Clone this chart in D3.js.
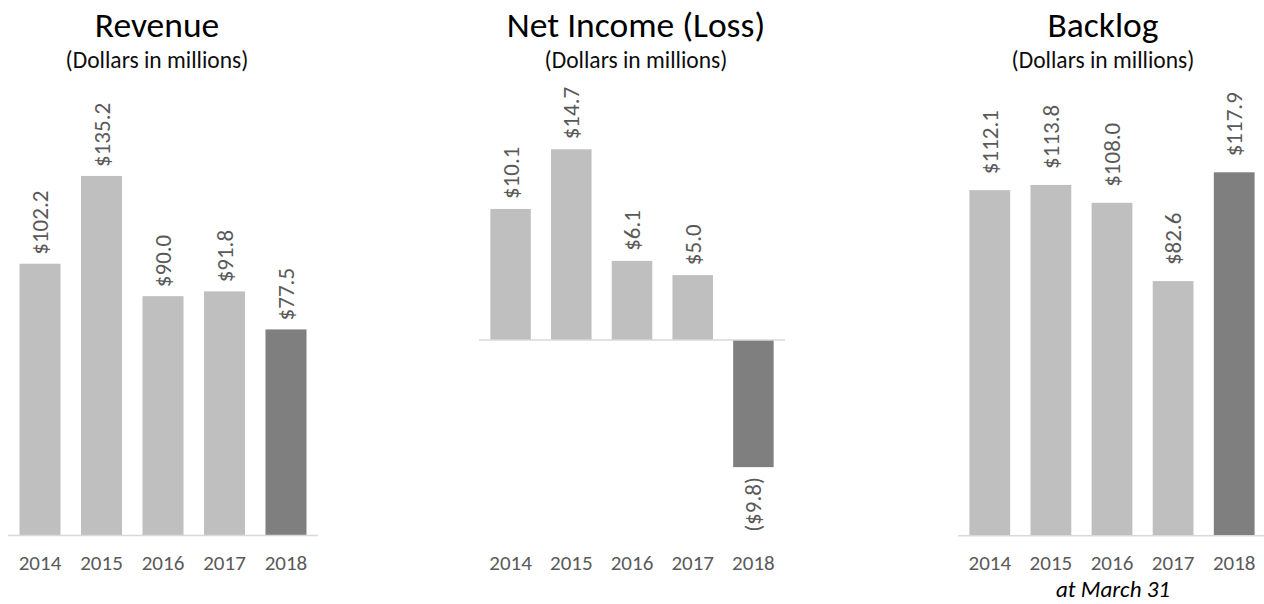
<!DOCTYPE html>
<html>
<head>
<meta charset="utf-8">
<script src="https://d3js.org/d3.v7.min.js" type="text/javascript"></script>
<style>
  body { margin: 0; background: #fff; }
  svg { display: block; font-family: Calibri, Carlito, Lato, sans-serif; }
</style>
</head>
<body>
<div id="chart"></div>
<script>
// data
const years = ["2014", "2015", "2016", "2017", "2018"];
const revenue = [102.2, 135.2, 90.0, 91.8, 77.5];
const netIncome = [10.1, 14.7, 6.1, 5.0, -9.8];
const backlog = [112.1, 113.8, 108.0, 82.6, 117.9];
const highlightYear = "2018";

const panelTitles = ["Revenue", "Net Income (Loss)", "Backlog"];
const panelSubtitles = ["(Dollars in millions)", "(Dollars in millions)", "(Dollars in millions)"];
const footNote = "at March 31";

const width = 1264, height = 604;

// per-panel layout
const panels = [
  { title: panelTitles[0], sub: panelSubtitles[0], values: revenue,
    xRange: [8, 318], domain: [0, 150], yRange: [535.5, 136.6], titleX: 157, gap: 9 },
  { title: panelTitles[1], sub: panelSubtitles[1], values: netIncome,
    xRange: [479, 785], domain: [-15, 15], yRange: [534.6, 145.4], titleX: 636, gap: 10 },
  { title: panelTitles[2], sub: panelSubtitles[2], values: backlog,
    xRange: [958, 1266], domain: [0, 130], yRange: [535.7, 135.0], titleX: 1103, gap: 16 }
];

const fmt = (v) => v < 0 ? "($" + Math.abs(v).toFixed(1) + ")" : "$" + v.toFixed(1);

const svg = d3.select("#chart").append("svg")
  .attr("width", width)
  .attr("height", height);

const makePanel = (p) => {
  const data = years.map((y, i) => ({ year: y, value: p.values[i] }));

  const x = d3.scaleBand()
    .domain(years)
    .range(p.xRange)
    .paddingInner(0.333)
    .paddingOuter(0.187);

  const y = d3.scaleLinear()
    .domain(p.domain)
    .range(p.yRange);

  const g = svg.append("g");

  // titles
  g.append("text")
    .attr("x", p.titleX)
    .attr("y", 37)
    .attr("text-anchor", "middle")
    .attr("font-size", 35.5)
    .attr("fill", "#000")
    .text(p.title);

  g.append("text")
    .attr("x", p.titleX)
    .attr("y", 68)
    .attr("text-anchor", "middle")
    .attr("font-size", 23.5)
    .attr("fill", "#0d0d0d")
    .text(p.sub);

  // bars
  g.selectAll(".bar")
    .data(data)
    .enter().append("rect")
    .attr("class", "bar")
    .attr("x", d => x(d.year))
    .attr("y", d => y(Math.max(0, d.value)))
    .attr("width", x.bandwidth())
    .attr("height", d => Math.abs(y(d.value) - y(0)))
    .attr("fill", d => d.year === highlightYear ? "#7f7f7f" : "#bfbfbf");

  // zero line
  g.append("line")
    .attr("x1", p.xRange[0])
    .attr("x2", p.xRange[1])
    .attr("y1", y(0))
    .attr("y2", y(0))
    .attr("stroke", "#d9d9d9")
    .attr("stroke-width", 1.5);

  // value labels, rotated
  g.selectAll(".value")
    .data(data)
    .enter().append("text")
    .attr("class", "value")
    .attr("transform", d => {
      const cx = x(d.year) + x.bandwidth() / 2;
      const cy = d.value < 0 ? y(d.value) + p.gap : y(d.value) - p.gap;
      return `translate(${cx},${cy}) rotate(-90)`;
    })
    .attr("dy", "0.35em")
    .attr("text-anchor", d => d.value < 0 ? "end" : "start")
    .attr("font-size", 23)
    .attr("fill", "#595959")
    .text(d => fmt(d.value));

  // year labels
  g.selectAll(".year")
    .data(data)
    .enter().append("text")
    .attr("class", "year")
    .attr("x", d => x(d.year) + x.bandwidth() / 2)
    .attr("y", 570)
    .attr("text-anchor", "middle")
    .attr("font-size", 21)
    .attr("fill", "#595959")
    .text(d => d.year);

  return x;
};

const xs = panels.map(makePanel);

// footnote under the backlog panel
svg.append("text")
  .attr("x", 1113)
  .attr("y", 597)
  .attr("text-anchor", "middle")
  .attr("font-size", 23)
  .attr("font-style", "italic")
  .attr("fill", "#000")
  .text(footNote);
</script>
</body>
</html>
